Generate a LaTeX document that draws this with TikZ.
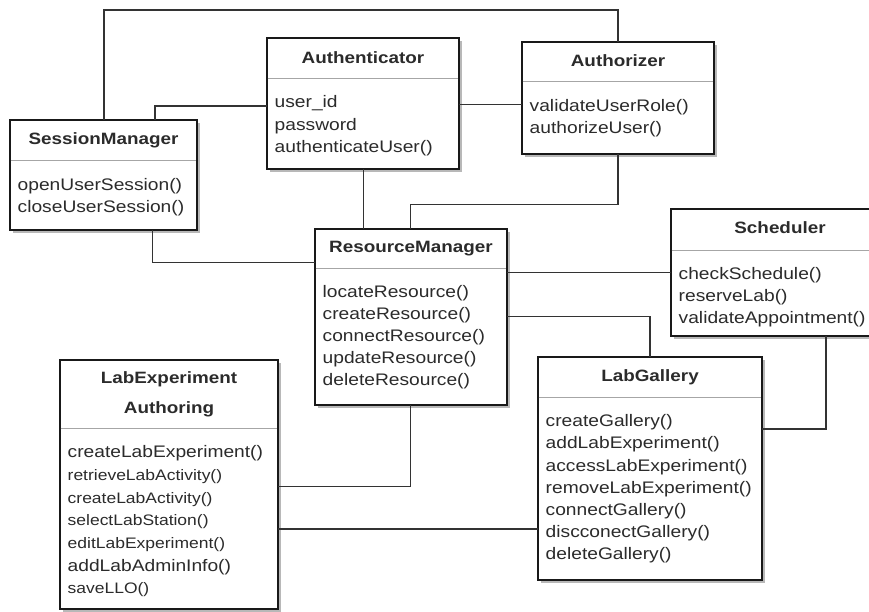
\documentclass[tikz,border=0pt]{standalone}
\usepackage{fontspec}
\setmainfont{Liberation Sans}[FakeStretch=1.15]
\definecolor{txt}{HTML}{2B2B2B}
\definecolor{edge}{HTML}{333333}
\newcommand\clshead{\fontsize{16.4}{20}\selectfont\bfseries}
\newcommand\clsmem{\fontsize{16.7}{22}\selectfont}
\newcommand\clssmall{\fontsize{15.2}{22}\selectfont}
\tikzset{
  x=1pt, y=-1pt,
  classbox/.style={draw=black!90, line width=1.3pt, fill=white, inner sep=0pt, outer sep=0pt},
  shadowc/.style={fill=black!28},
  divider/.style={draw=black!35, line width=0.9pt},
  ctitle/.style={anchor=base, inner sep=0pt, font=\clshead, text=txt},
  mem/.style={anchor=base west, inner sep=0pt, font=\clsmem, text=txt},
  conn/.style={draw=edge, line width=1.2pt},
}
% name, left, top, right, bottom, divider
\newcommand\umlbox[6]{%
  \fill[shadowc] (#2+3,#3+3) rectangle (#4+3,#5+3);
  \node[classbox, minimum width=#4pt-#2pt, minimum height=#5pt-#3pt, anchor=north west] (#1) at (#2,#3) {};
  \draw[divider] (#2+0.7,#6) -- (#4-0.7,#6);
}
% name, x, first baseline, skip, list
\newcommand\umlmembers[5]{%
  \foreach \t [count=\i] in {#5} {\node[mem] (#1-m\i) at (#2, #3+\i*#4-#4) {\t};}
}
\begin{document}
\begin{tikzpicture}
\useasboundingbox (0,0) rectangle (869,611);
\fill[white] (0,0) rectangle (869,611);
\clip (0,0) rectangle (869,611);

% class boxes
\umlbox{sm}{10}{120}{197}{230}{160}
\umlbox{au}{267}{38}{459}{169}{78}
\umlbox{az}{522}{42}{714}{154}{81}
\umlbox{rm}{315}{229}{507}{405}{268}
\umlbox{sc}{671}{209}{889}{336}{250}
\umlbox{lg}{538}{357}{762}{580}{397}
\umlbox{le}{60}{360}{278}{609}{428}

% titles
\node[ctitle] (sm-t) at (103.5,144.5) {SessionManager};
\node[ctitle] (au-t) at (363,63.5) {Authenticator};
\node[ctitle] (az-t) at (618,66) {Authorizer};
\node[ctitle] (rm-t) at (411,252.5) {ResourceManager};
\node[ctitle] (sc-t) at (780,233.5) {Scheduler};
\node[ctitle] (lg-t) at (650,381.5) {LabGallery};
\node[ctitle] (le-t1) at (169,383.3) {LabExperiment};
\node[ctitle] (le-t2) at (169,413.3) {Authoring};

% members
\umlmembers{sm}{17.5}{190.5}{22}{openUserSession(), closeUserSession()}
\umlmembers{au}{274.5}{107.5}{22.6}{user\_id, password, authenticateUser()}
\umlmembers{az}{529.5}{111}{22}{validateUserRole(), authorizeUser()}
\umlmembers{rm}{322.5}{297.5}{22}{locateResource(), createResource(), connectResource(), updateResource(), deleteResource()}
\umlmembers{sc}{678.5}{279}{22}{checkSchedule(), reserveLab(), validateAppointment()}
\umlmembers{lg}{545.5}{426.7}{22.2}{createGallery(), addLabExperiment(), accessLabExperiment(), removeLabExperiment(), connectGallery(), discconectGallery(), deleteGallery()}
\node[mem] (le-m1) at (67.5,457.7) {createLabExperiment()};
\node[mem, font=\clssmall] (le-m2) at (67.5,480.4) {retrieveLabActivity()};
\node[mem, font=\clssmall] (le-m3) at (67.5,503.1) {createLabActivity()};
\node[mem, font=\clssmall] (le-m4) at (67.5,525.8) {selectLabStation()};
\node[mem, font=\clssmall] (le-m5) at (67.5,548.5) {editLabExperiment()};
\node[mem] (le-m6) at (67.5,571.2) {addLabAdminInfo()};
\node[mem, font=\clssmall] (le-m7) at (67.5,593.9) {saveLLO()};

% connector bend points
\coordinate (k1) at (104,10);
\coordinate (k2) at (155,106);
\coordinate (k3) at (0,104.3);
\coordinate (k4) at (363.3,0);
\coordinate (k5) at (410.7,204.3);
\coordinate (k6) at (152.7,262.3);
\coordinate (k7) at (0,272.7);
\coordinate (k8) at (650,316.7);
\coordinate (k9) at (826,429);
\coordinate (k10) at (410.7,486.7);
\coordinate (k11) at (0,529);

% connectors
\draw[conn] (k1 |- sm.north) -- (k1) -| (az.north);
\draw[conn] (k2 |- sm.north) -- (k2) -- (k2 -| au.west);
\draw[conn] (au.east |- k3) -- (az.west |- k3);
\draw[conn] (k4 |- au.south) -- (k4 |- rm.north);
\draw[conn] (k5 |- rm.north) -- (k5) -| (az.south);
\draw[conn] (k6 |- sm.south) -- (k6) -- (k6 -| rm.west);
\draw[conn] (rm.east |- k7) -- (sc.west |- k7);
\draw[conn] (rm.east |- k8) -- (k8) -- (k8 |- lg.north);
\draw[conn] (k9 |- sc.south) -- (k9) -- (k9 -| lg.east);
\draw[conn] (k10 |- rm.south) -- (k10) -- (k10 -| le.east);
\draw[conn] (le.east |- k11) -- (lg.west |- k11);
\end{tikzpicture}
\end{document}
